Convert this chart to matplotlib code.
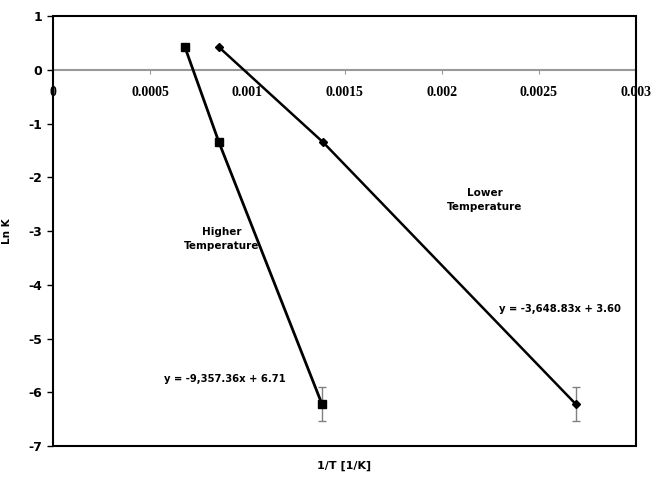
import matplotlib
matplotlib.use("Agg")
import matplotlib.pyplot as plt
from matplotlib.patches import Rectangle

# Data
high_x = [0.000679, 0.000854, 0.001384]
high_y = [0.42, -1.35, -6.22]
high_err = [0.0, 0.0, 0.31]
low_x = [0.000854, 0.00139, 0.00269]
low_y = [0.42, -1.35, -6.22]
low_err = [0.0, 0.0, 0.31]

x_ticks = [0, 0.0005, 0.001, 0.0015, 0.002, 0.0025, 0.003]
x_ticklabels = ["0", "0.0005", "0.001", "0.0015", "0.002", "0.0025", "0.003"]
y_ticks = [1, 0, -1, -2, -3, -4, -5, -6, -7]

fig = plt.figure(figsize=(6.52, 4.78), dpi=100)
ax = fig.add_axes([53/652, 32/478, (636-53)/652, (446-16)/478])

ax.plot(high_x, high_y, color="black", lw=2, marker="s", ms=6, zorder=3)
ax.errorbar([high_x[-1]], [high_y[-1]], yerr=[high_err[-1]], fmt="none",
            ecolor="#808080", elinewidth=1, capsize=3, zorder=2)
ax.plot(low_x, low_y, color="black", lw=1.8, marker="D", ms=4, zorder=3)
ax.errorbar([low_x[-1]], [low_y[-1]], yerr=[low_err[-1]], fmt="none",
            ecolor="#808080", elinewidth=1, capsize=3, zorder=2)

ax.set_xlim(0, 0.003)
ax.set_ylim(-7, 1)

ax.spines["bottom"].set_position(("data", 0))
ax.spines["bottom"].set_color("#999999")
ax.spines["bottom"].set_linewidth(1.5)
for s in ["top", "left", "right"]:
    ax.spines[s].set_visible(False)
ax.add_patch(Rectangle((0, 0), 1, 1, transform=ax.transAxes, fill=False,
                       ec="black", lw=1.5, clip_on=False, zorder=5))

ax.set_xticks(x_ticks)
ax.set_xticklabels(x_ticklabels, fontfamily="Liberation Serif",
                   fontweight="bold", fontsize=10)
ax.tick_params(axis="x", direction="out", length=3, color="#999999", pad=9)
ax.set_yticks(y_ticks)
ax.set_yticklabels([str(v) for v in y_ticks], fontweight="bold", fontsize=9)
ax.tick_params(axis="y", direction="out", length=4, width=1)

ax.set_ylabel("Ln K", fontsize=7.5, fontweight="bold", labelpad=12)
fig.text((53+636)/2/652, 1-466/478, "1/T [1/K]", ha="center", va="center",
         fontsize=8, fontweight="bold")

ax.text(0.000866, -3.15, "Higher\nTemperature", ha="center", va="center",
        fontsize=7.5, fontweight="bold", linespacing=1.5)
ax.text(0.00222, -2.42, "Lower\nTemperature", ha="center", va="center",
        fontsize=7.5, fontweight="bold", linespacing=1.5)
ax.text(0.000885, -5.76, "y = -9,357.36x + 6.71", ha="center", va="center",
        fontsize=7.2, fontweight="bold")
ax.text(0.00261, -4.45, "y = -3,648.83x + 3.60", ha="center", va="center",
        fontsize=7.2, fontweight="bold")

fig.savefig("out.png", dpi=100)
